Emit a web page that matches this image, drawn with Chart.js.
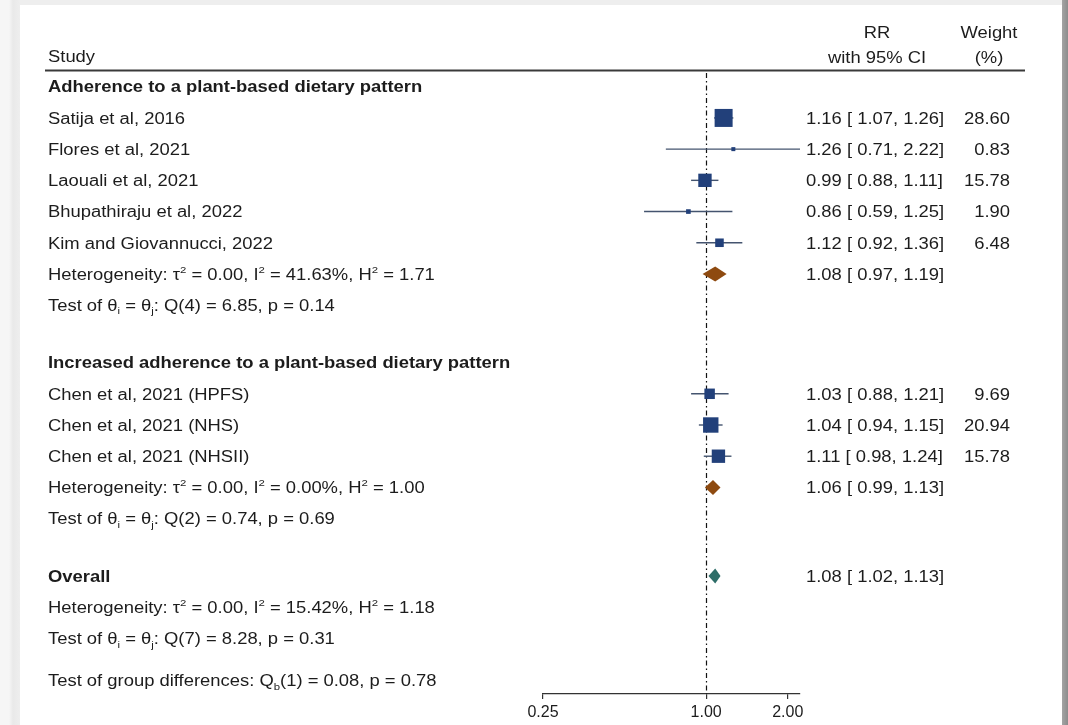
<!DOCTYPE html>
<html>
<head>
<meta charset="utf-8">
<title>Forest plot</title>
<script src="https://cdn.jsdelivr.net/npm/chart.js@4.4.1/dist/chart.umd.min.js"></script>
<style>
  html, body { margin:0; padding:0; }
  body {
    width:1068px; height:725px; position:relative; overflow:hidden;
    background:linear-gradient(to right, #f6f6f6 0, #f6f6f6 9px, #e9e9e9 13px, #eeeeee 20px, #eeeeee 100%);
  }
  #sheet { position:absolute; left:20px; top:5px; width:1042px; height:720px; background:#fff; }
  #edge  { position:absolute; left:1062px; top:0; width:6px; height:725px; background:linear-gradient(to right, #a4a4a4, #8c8c8c); }
  #plot  { position:absolute; left:0; top:0; }
</style>
</head>
<body>
<div id="sheet"></div>
<div id="edge"></div>
<canvas id="plot" width="1068" height="725"></canvas>
<script>
// ---- data ----
const studies    = ['Satija et al, 2016', 'Flores et al, 2021', 'Laouali et al, 2021', 'Bhupathiraju et al, 2022',
                    'Kim and Giovannucci, 2022', 'Chen et al, 2021 (HPFS)', 'Chen et al, 2021 (NHS)', 'Chen et al, 2021 (NHSII)'];
const studyGroup = [0, 0, 0, 0, 0, 1, 1, 1];
const rr         = [1.16, 1.26, 0.99, 0.86, 1.12, 1.03, 1.04, 1.11];
const ciLow      = [1.07, 0.71, 0.88, 0.59, 0.92, 0.88, 0.94, 0.98];
const ciHigh     = [1.26, 2.22, 1.11, 1.25, 1.36, 1.21, 1.15, 1.24];
const weights    = [28.60, 0.83, 15.78, 1.90, 6.48, 9.69, 20.94, 15.78];

const groupNames = ['Adherence to a plant-based dietary pattern', 'Increased adherence to a plant-based dietary pattern'];
const groupRR    = [1.08, 1.06];
const groupLow   = [0.97, 0.99];
const groupHigh  = [1.19, 1.13];
const groupHet   = ['Heterogeneity: τ^{2} = 0.00, I^{2} = 41.63%, H^{2} = 1.71',
                    'Heterogeneity: τ^{2} = 0.00, I^{2} = 0.00%, H^{2} = 1.00'];
const groupTest  = ['Test of θ_{i} = θ_{j}: Q(4) = 6.85, p = 0.14',
                    'Test of θ_{i} = θ_{j}: Q(2) = 0.74, p = 0.69'];

const overallRR   = 1.08, overallLow = 1.02, overallHigh = 1.13;
const overallHet  = 'Heterogeneity: τ^{2} = 0.00, I^{2} = 15.42%, H^{2} = 1.18';
const overallTest = 'Test of θ_{i} = θ_{j}: Q(7) = 8.28, p = 0.31';
const groupDiff   = 'Test of group differences: Q_{b}(1) = 0.08, p = 0.78';

const xTicks = [0.25, 1, 2];
const xMin = 0.25, xMax = 2.22;

// ---- look ----
const FONT = '"Liberation Sans", Arial, Helvetica, sans-serif';
const FS = 16, SX = 1.15;            // text size and horizontal stretch
const INK = '#1c1c1c';
const SQUARE = '#22407a', WHISKER = '#44546f';
const SUB_DIAMOND = '#8e4a10', ALL_DIAMOND = '#2d6d68';
const TEXT_X = 48, EST_X = 806, WT_X = 1010;
const SECTION_GAP = 0.84, DIFF_GAP = 0.34;

// ---- row layout ----
const rows = [];
let pos = 0;
groupNames.forEach((g, gi) => {
  if (gi > 0) pos += SECTION_GAP;
  rows.push({ kind:'head', text:g, pos:pos++ });
  studies.forEach((s, i) => {
    if (studyGroup[i] === gi) rows.push({ kind:'study', text:s, i, pos:pos++ });
  });
  rows.push({ kind:'pooled', text:groupHet[gi], est:groupRR[gi], lo:groupLow[gi], hi:groupHigh[gi], color:SUB_DIAMOND, pos:pos++ });
  rows.push({ kind:'note', text:groupTest[gi], pos:pos++ });
});
pos += SECTION_GAP;
rows.push({ kind:'pooledHead', text:'Overall', est:overallRR, lo:overallLow, hi:overallHigh, color:ALL_DIAMOND, pos:pos++ });
rows.push({ kind:'note', text:overallHet, pos:pos++ });
rows.push({ kind:'note', text:overallTest, pos:pos++ });
pos += DIFF_GAP;
rows.push({ kind:'note', text:groupDiff, pos:pos++ });

const studyRows = rows.filter(r => r.kind === 'study');
const fmt = v => v.toFixed(2);
const ciText = (e, l, h) => `${fmt(e)} [ ${fmt(l)}, ${fmt(h)}]`;

// text with ^{..} superscripts and _{..} subscripts, stretched horizontally
function richText(ctx, str, x, y, { bold=false, align='left', size=FS } = {}) {
  const parts = str.split(/(\^\{[^}]*\}|_\{[^}]*\})/).filter(Boolean).map(p => {
    if (p.startsWith('^{')) return { t:p.slice(2, -1), s:size*0.62, dy:-size*0.42 };
    if (p.startsWith('_{')) return { t:p.slice(2, -1), s:size*0.62, dy: size*0.22 };
    return { t:p, s:size, dy:0 };
  });
  const w = parts.reduce((acc, p) => {
    ctx.font = `${bold ? 'bold ' : ''}${p.s}px ${FONT}`;
    return acc + ctx.measureText(p.t).width;
  }, 0);
  ctx.save();
  ctx.translate(x, y + size*0.36);
  ctx.scale(SX, 1);
  ctx.fillStyle = INK;
  ctx.textBaseline = 'alphabetic';
  ctx.textAlign = 'left';
  let cx = align === 'right' ? -w : align === 'center' ? -w/2 : 0;
  parts.forEach(p => {
    ctx.font = `${bold ? 'bold ' : ''}${p.s}px ${FONT}`;
    ctx.fillText(p.t, cx, p.dy);
    cx += ctx.measureText(p.t).width;
  });
  ctx.restore();
}

const forestPlugin = {
  id: 'forest',
  beforeDatasetsDraw(chart) {
    const { ctx, scales:{ x, y }, chartArea } = chart;
    // line of no effect
    ctx.save();
    ctx.strokeStyle = '#111';
    ctx.lineWidth = 1.2;
    ctx.setLineDash([5, 3, 1.5, 3]);
    ctx.beginPath();
    const x1 = Math.round(x.getPixelForValue(1)) + 0.5;
    ctx.moveTo(x1, 73);
    ctx.lineTo(x1, chartArea.bottom);
    ctx.stroke();
    ctx.restore();

    // confidence intervals
    ctx.save();
    ctx.strokeStyle = WHISKER;
    ctx.lineWidth = 1.4;
    studyRows.forEach(r => {
      const py = y.getPixelForValue(r.pos);
      ctx.beginPath();
      ctx.moveTo(x.getPixelForValue(ciLow[r.i]), py);
      ctx.lineTo(x.getPixelForValue(ciHigh[r.i]), py);
      ctx.stroke();
    });
    ctx.restore();
  },
  afterDatasetsDraw(chart) {
    const { ctx, scales:{ x, y } } = chart;

    // pooled diamonds
    rows.filter(r => r.kind === 'pooled' || r.kind === 'pooledHead').forEach(r => {
      const py = y.getPixelForValue(r.pos), h = 7.5;
      ctx.save();
      ctx.fillStyle = r.color;
      ctx.beginPath();
      ctx.moveTo(x.getPixelForValue(r.lo), py);
      ctx.lineTo(x.getPixelForValue(r.est), py - h);
      ctx.lineTo(x.getPixelForValue(r.hi), py);
      ctx.lineTo(x.getPixelForValue(r.est), py + h);
      ctx.closePath();
      ctx.fill();
      ctx.restore();
    });

    // column headers
    richText(ctx, 'Study', TEXT_X, 56);
    richText(ctx, 'RR', 877, 32, { align:'center' });
    richText(ctx, 'with 95% CI', 877, 57, { align:'center' });
    richText(ctx, 'Weight', 989, 32, { align:'center' });
    richText(ctx, '(%)', 989, 57, { align:'center' });
    ctx.save();
    ctx.strokeStyle = '#3a3a3a';
    ctx.lineWidth = 2;
    ctx.beginPath();
    ctx.moveTo(45, 70.5);
    ctx.lineTo(1025, 70.5);
    ctx.stroke();
    ctx.restore();

    // row labels and estimates
    rows.forEach(r => {
      const py = y.getPixelForValue(r.pos);
      const bold = r.kind === 'head' || r.kind === 'pooledHead';
      richText(ctx, r.text, TEXT_X, py, { bold });
      if (r.kind === 'study') {
        richText(ctx, ciText(rr[r.i], ciLow[r.i], ciHigh[r.i]), EST_X, py);
        richText(ctx, fmt(weights[r.i]), WT_X, py, { align:'right' });
      } else if (r.kind === 'pooled' || r.kind === 'pooledHead') {
        richText(ctx, ciText(r.est, r.lo, r.hi), EST_X, py);
      }
    });
  }
};

// square side follows study weight
const side = w => Math.max(4, 18 * Math.sqrt(w / 28.6));

new Chart(document.getElementById('plot'), {
  type: 'scatter',
  data: {
    datasets: [{
      data: studyRows.map(r => ({ x: rr[r.i], y: r.pos })),
      pointStyle: 'rect',
      pointRadius: studyRows.map(r => side(weights[r.i]) / Math.SQRT2),
      pointHoverRadius: studyRows.map(r => side(weights[r.i]) / Math.SQRT2),
      backgroundColor: SQUARE,
      borderWidth: 0
    }]
  },
  options: {
    responsive: false,
    animation: false,
    devicePixelRatio: 1,
    layout: { padding: { left: 543, right: 268, top: 68, bottom: 0 } },
    plugins: { legend: { display:false }, tooltip: { enabled:false } },
    scales: {
      x: {
        type: 'logarithmic',
        min: xMin, max: xMax,
        afterBuildTicks: s => { s.ticks = xTicks.map(v => ({ value: v })); },
        afterFit: s => { s.height = 31; },
        border: { display:true, color:'#333', width:1.3 },
        grid: { display:true, drawOnChartArea:false, drawTicks:true, tickLength:5, color:'#333', lineWidth:1.2 },
        ticks: {
          padding: 4, color: INK, maxRotation: 0, autoSkip: false,
          font: { family: FONT, size: 16 },
          callback: v => Number(v).toFixed(2)
        }
      },
      y: { type:'linear', reverse:true, display:false, min:-0.6, max:19.46 }
    }
  },
  plugins: [forestPlugin]
});
</script>
</body>
</html>
